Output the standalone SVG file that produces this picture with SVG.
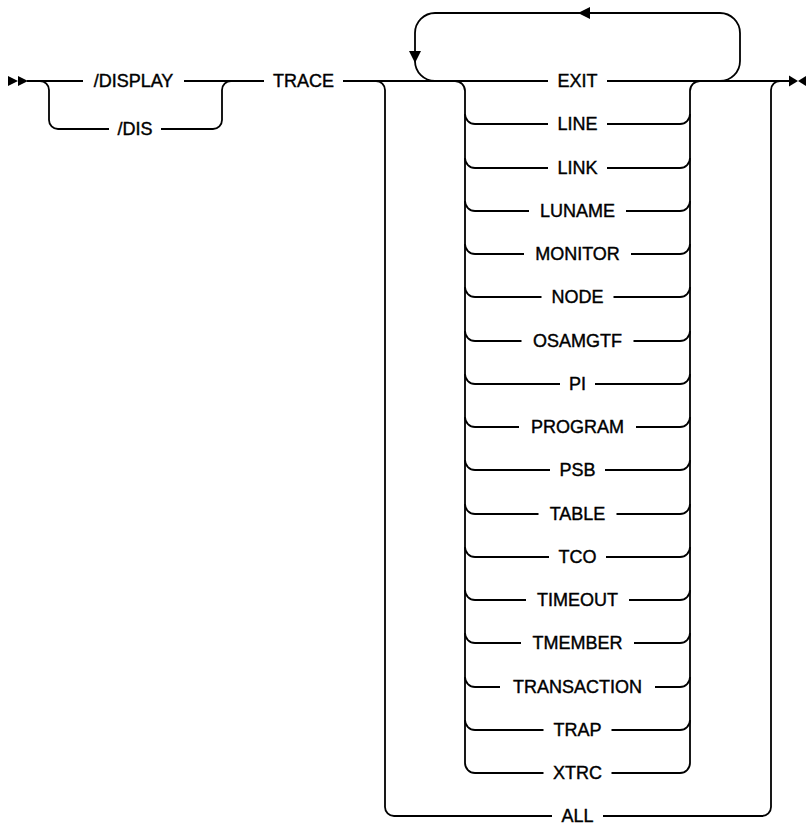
<svg xmlns="http://www.w3.org/2000/svg" width="806" height="825" viewBox="0 0 806 825">
<style>
  .ln{fill:none;stroke:#000;stroke-width:1.8;stroke-linecap:butt}
  .ah{fill:#000;stroke:none}
  text{font-family:"Liberation Sans",Arial,sans-serif;font-size:18px;fill:#000;stroke:#000;stroke-width:0.4;text-anchor:middle}
</style>
<rect width="806" height="825" fill="#fff"/>
<g id="connectors">
  <!-- start / end markers -->
  <polygon class="ah" points="8,76 18,81 8,86"/>
  <polygon class="ah" points="18,76 28,81 18,86"/>
  <polygon class="ah" points="789,75.5 798,81 789,86.5"/>
  <polygon class="ah" points="807,75.5 798,81 807,86.5"/>
  <!-- main line -->
  <path class="ln" d="M27 81H83M184 81H264M343 81H548M607 81H790"/>
  <!-- /DIS branch -->
  <path class="ln" d="M40 81A9 9 0 0 1 49 90V120A9 9 0 0 0 58 129H109M161 129H213A9 9 0 0 0 222 120V90A9 9 0 0 1 231 81"/>
  <!-- ALL branch -->
  <path class="ln" d="M376 81A9 9 0 0 1 385 90V807A9 9 0 0 0 394 816H552M603 816H762A9 9 0 0 0 771 807V90A9 9 0 0 1 780 81"/>
  <!-- repeat loop -->
  <path class="ln" d="M435 81A20 20 0 0 1 415 61V33A20 20 0 0 1 435 13H720A20 20 0 0 1 740 33V61A20 20 0 0 1 720 81"/>
  <polygon class="ah" points="409,51 421,51 415,63"/>
  <polygon class="ah" points="590,7 590,19 578,13"/>
  <!-- inner choice rails -->
  <path class="ln" d="M455 81A10 10 0 0 1 465 91V763A10 10 0 0 0 475 773H543.5"/>
  <path class="ln" d="M700 81A10 10 0 0 0 690 91V763A10 10 0 0 1 680 773H611.5"/>
  <!-- inner rows -->
  <path class="ln" d="M465 114A10 10 0 0 0 475 124H548M607 124H680A10 10 0 0 0 690 114"/>
  <path class="ln" d="M465 158A10 10 0 0 0 475 168H548M607 168H680A10 10 0 0 0 690 158"/>
  <path class="ln" d="M465 201A10 10 0 0 0 475 211H529M626 211H680A10 10 0 0 0 690 201"/>
  <path class="ln" d="M465 244A10 10 0 0 0 475 254H524M631 254H680A10 10 0 0 0 690 244"/>
  <path class="ln" d="M465 287A10 10 0 0 0 475 297H541.5M613.5 297H680A10 10 0 0 0 690 287"/>
  <path class="ln" d="M465 331A10 10 0 0 0 475 341H521.5M633.5 341H680A10 10 0 0 0 690 331"/>
  <path class="ln" d="M465 374A10 10 0 0 0 475 384H560M595 384H680A10 10 0 0 0 690 374"/>
  <path class="ln" d="M465 417A10 10 0 0 0 475 427H519M636 427H680A10 10 0 0 0 690 417"/>
  <path class="ln" d="M465 460A10 10 0 0 0 475 470H550M605 470H680A10 10 0 0 0 690 460"/>
  <path class="ln" d="M465 504A10 10 0 0 0 475 514H538.5M616.5 514H680A10 10 0 0 0 690 504"/>
  <path class="ln" d="M465 547A10 10 0 0 0 475 557H549M606 557H680A10 10 0 0 0 690 547"/>
  <path class="ln" d="M465 590A10 10 0 0 0 475 600H526M629 600H680A10 10 0 0 0 690 590"/>
  <path class="ln" d="M465 633A10 10 0 0 0 475 643H521M634 643H680A10 10 0 0 0 690 633"/>
  <path class="ln" d="M465 677A10 10 0 0 0 475 687H500M655 687H680A10 10 0 0 0 690 677"/>
  <path class="ln" d="M465 720A10 10 0 0 0 475 730H543.5M611.5 730H680A10 10 0 0 0 690 720"/>
</g>
<g id="n-display"><text x="133.5" y="86.5">/DISPLAY</text></g>
<g id="n-dis"><text x="135" y="134.5">/DIS</text></g>
<g id="n-trace"><text x="303.5" y="86.5">TRACE</text></g>
<g id="n-exit"><text x="577.5" y="86.5">EXIT</text></g>
<g id="n-line"><text x="577.5" y="129.5">LINE</text></g>
<g id="n-link"><text x="577.5" y="173.5">LINK</text></g>
<g id="n-luname"><text x="577.5" y="216.5">LUNAME</text></g>
<g id="n-monitor"><text x="577.5" y="259.5">MONITOR</text></g>
<g id="n-node"><text x="577.5" y="302.5">NODE</text></g>
<g id="n-osamgtf"><text x="577.5" y="346.5">OSAMGTF</text></g>
<g id="n-pi"><text x="577.5" y="389.5">PI</text></g>
<g id="n-program"><text x="577.5" y="432.5">PROGRAM</text></g>
<g id="n-psb"><text x="577.5" y="475.5">PSB</text></g>
<g id="n-table"><text x="577.5" y="519.5">TABLE</text></g>
<g id="n-tco"><text x="577.5" y="562.5">TCO</text></g>
<g id="n-timeout"><text x="577.5" y="605.5">TIMEOUT</text></g>
<g id="n-tmember"><text x="577.5" y="648.5">TMEMBER</text></g>
<g id="n-transaction"><text x="577.5" y="692.5">TRANSACTION</text></g>
<g id="n-trap"><text x="577.5" y="735.5">TRAP</text></g>
<g id="n-xtrc"><text x="577.5" y="778.5">XTRC</text></g>
<g id="n-all"><text x="577.5" y="821.5">ALL</text></g>
</svg>
